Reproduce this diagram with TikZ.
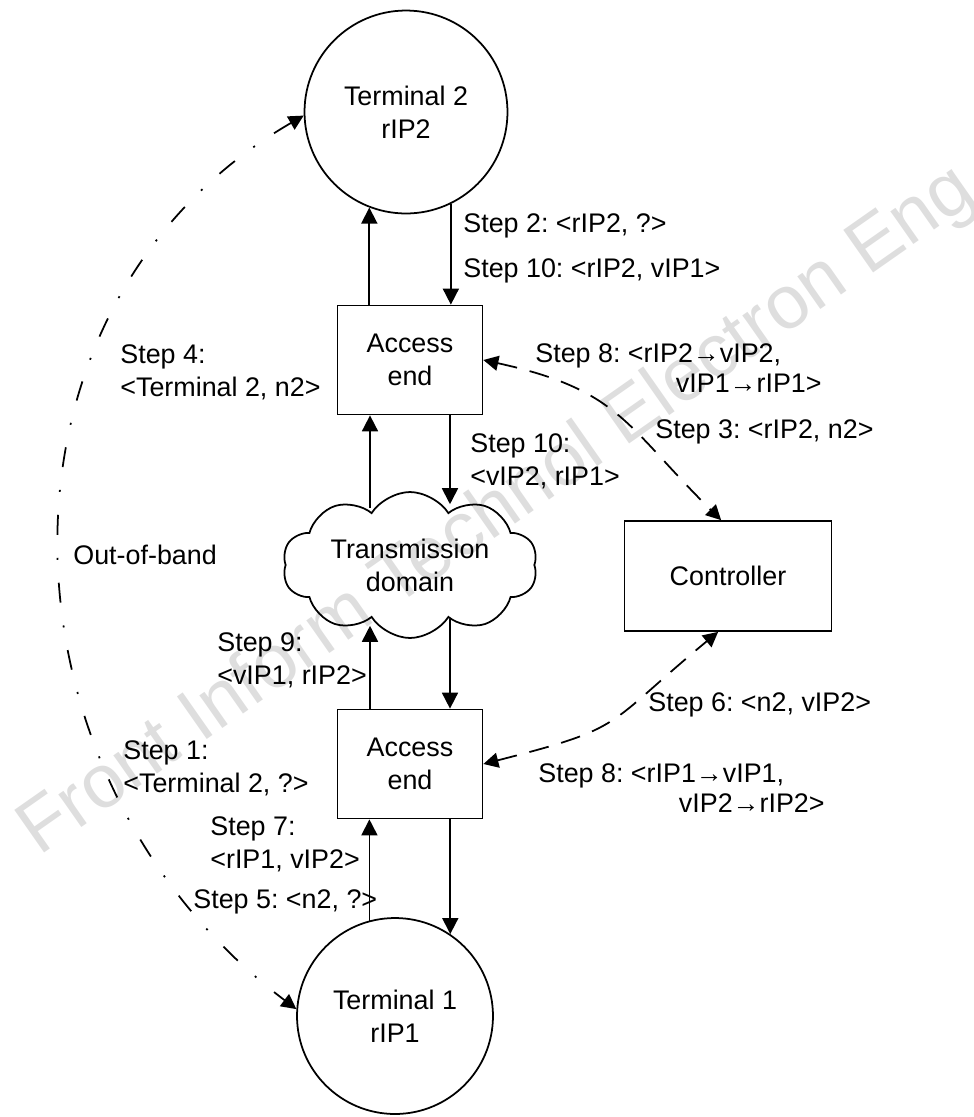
\documentclass[tikz,border=0pt]{standalone}
\usepackage{fontspec}
\setmainfont{Liberation Sans}
\usetikzlibrary{arrows.meta,shapes.symbols}

\tikzset{
  term/.style={circle,draw,line width=1pt,align=center,inner sep=0pt},
  box/.style={draw,line width=1pt,minimum width=2.9cm,minimum height=2.18cm,align=center},
  arr/.style={line width=1pt,-{Triangle[length=3.2mm,width=3.2mm]}},
  ctrlink/.style={line width=1pt,dash pattern=on 0.4cm off 0.26cm,
    {Triangle[length=3mm,width=3mm]}-{Triangle[length=3mm,width=3mm]}},
  oob/.style={line width=1pt,dash pattern=on 0.4cm off 0.46cm on 0.04cm off 0.46cm,
    {Triangle[length=3mm,width=3mm]}-{Triangle[length=3mm,width=3mm]}},
  lbl/.style={anchor=west,align=left,inner sep=0pt},
  lbltight/.style={lbl,font=\fontsize{15.3pt}{17pt}\selectfont}
}

\begin{document}
\frenchspacing
\begin{tikzpicture}[x=0.02cm,y=-0.02cm,font=\fontsize{15.3pt}{18.7pt}\selectfont]
  \useasboundingbox (0,0) rectangle (974,1117);
  \node[rotate=35,text=black!13,font=\fontsize{43pt}{43pt}\selectfont] (wm) at (498,512)
    {Front Inform Technol Electron Eng};

  \node[term,minimum size=4.06cm] (t2) at (406,112) {Terminal 2\\rIP2};
  \node[box] (ae1) at (410,360) {Access\\end};
  \node[cloud,cloud puffs=10,cloud puff arc=115,cloud ignores aspect,draw,line width=1pt,
    minimum width=5.1cm,minimum height=2.92cm,align=center,inner xsep=-0.2cm,inner ysep=0pt]
    (td) at (410,565) {Transmission\\domain};
  \node[box] (ae2) at (410,764) {Access\\end};
  \node[term,minimum size=3.92cm] (t1) at (395,1016) {Terminal 1\\rIP1};
  \node[draw,line width=1pt,minimum width=4.14cm,minimum height=2.2cm] (ctrl) at (728,576) {Controller};

  \coordinate (u1) at ([xshift=-0.8cm]ae1.south);
  \coordinate (d1) at ([xshift=0.8cm]ae1.south);
  \coordinate (u2) at ([xshift=-0.8cm]ae2.north);
  \coordinate (d2) at ([xshift=0.8cm]ae2.north);

  \draw[arr] (t2.296) -- (t2.296 |- ae1.north);
  \draw[arr] (t2.249 |- ae1.north) -- (t2.249);
  \draw[arr] (td.122 -| u1) -- (u1);
  \draw[arr] (d1) -- (td.62 -| d1);
  \draw[arr] (u2) -- (td.242 -| u2);
  \draw[arr] (td.305 -| d2) -- (d2);
  \draw[arr] (t1.105) -- (t1.105 |- ae2.south);
  \draw[arr] (t1.56 |- ae2.south) -- (t1.56);

  \draw[ctrlink] (ae1.east) .. controls (620,390) and (625,425) .. (ctrl.97);
  \draw[ctrlink] (ae2.east) .. controls (628,727) and (603,727) .. (ctrl.260);
  \draw[oob] (t2.182) .. controls (-28,308) and (-11,777) .. (t1.176);

  \node[lbl] (s2) at (463,226) {Step 2: <rIP2, ?>};
  \node[lbl] (s10a) at (463,271) {Step 10: <rIP2, vIP1>};
  \node[lbl] (s4) at (120,372) {Step 4:\\<Terminal 2, n2>};
  \node[lbltight] (s8a) at (535,368) {Step 8: <rIP2→vIP2,\\\hspace*{80pt}vIP1→rIP1>};
  \node[lbl] (s3) at (655,432) {Step 3: <rIP2, n2>};
  \node[lbl] (s10b) at (470,461) {Step 10:\\<vIP2, rIP1>};
  \node[lbl] (oobl) at (73,555) {Out-of-band};
  \node[lbl] (s9) at (217,660) {Step 9:\\<vIP1, rIP2>};
  \node[lbl] (s6) at (648,705) {Step 6: <n2, vIP2>};
  \node[lbl] (s1) at (123,768) {Step 1:\\<Terminal 2, ?>};
  \node[lbltight] (s8b) at (538,788) {Step 8: <rIP1→vIP1,\\\hspace*{80pt}vIP2→rIP2>};
  \node[lbl] (s7) at (210,844) {Step 7:\\<rIP1, vIP2>};
  \node[lbl] (s5) at (193,902) {Step 5: <n2, ?>};
\end{tikzpicture}
\end{document}
